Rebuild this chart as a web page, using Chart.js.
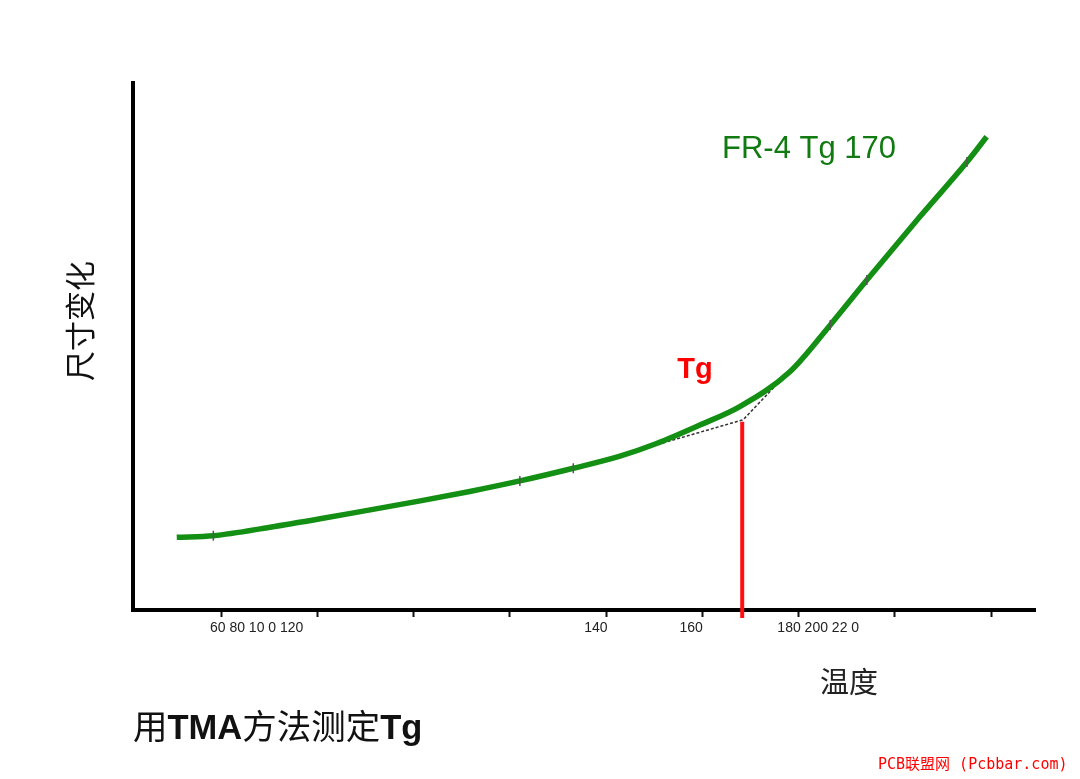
<!DOCTYPE html>
<html>
<head>
<meta charset="utf-8">
<script src="https://cdn.jsdelivr.net/npm/chart.js@4.4.0/dist/chart.umd.min.js"></script>
<style>
    body { margin: 0; background: #fff; }
    #wrap { position: relative; width: 1080px; height: 779px; }
    #caption {
        position: absolute; left: 133px; top: 705px;
        font-family: "Liberation Sans", "Noto Sans CJK SC", sans-serif;
        font-size: 34.5px; line-height: 44px; color: #111; white-space: nowrap;
    }
    #caption b { font-weight: bold; }
    #mark {
        position: absolute; left: 878px; top: 755px;
        font-family: "DejaVu Sans Mono", "Noto Sans CJK SC", monospace;
        font-size: 15px; line-height: 19px; color: #f00; white-space: nowrap;
    }
</style>
</head>
<body>
<div id="wrap">
    <canvas id="myChart" width="1080" height="779"></canvas>
    <div id="caption">用<b>TMA</b>方法测定<b>Tg</b></div>
    <div id="mark">PCB联盟网 (Pcbbar.com)</div>
</div>
<script>
// FR-4 curve (temperature, dimension change in arbitrary units)
const tempC = [50.8, 58.4, 70.2, 80.6, 91.0, 101.4, 111.7, 122.1, 133.2, 142.9, 150.5, 159.5, 167.8, 178.2, 186.6, 194.2, 205.2, 215.0, 219.1];
const dimChange = [13.8, 14.1, 15.7, 17.3, 19.0, 20.7, 22.5, 24.5, 26.9, 29.2, 31.6, 35.1, 38.6, 45.2, 54.1, 62.6, 74.6, 85.0, 89.8];
const markedIdx = [1, 7, 8, 14, 15, 17];

// tangent construction
const tangentT = [148.8, 168.5, 178.9];
const tangentV = [30.9, 36.1, 46.1];

// Tg drop line
const tgTemp = 168.3;
const tgTop = 35.7;
const tgBottom = -1.5;

// axis ticks
const tickMarks = [60, 80, 100, 120, 140, 160, 180, 200, 220];
const tickText = ["60 80 10 0 120", "140", "160", "180 200 22 0"];
const tickTextAt = [67.4, 137.9, 157.7, 184.1];

const toPoints = (xs, ys) => xs.map((x, i) => ({x: x, y: ys[i]}));

const textPlugin = {
    id: 'texts',
    afterDraw(chart) {
        const ctx = chart.ctx;
        const xs = chart.scales.x, ys = chart.scales.y;
        ctx.save();
        ctx.textBaseline = 'middle';

        ctx.fillStyle = '#117a11';
        ctx.font = '31px "Liberation Sans", Arial, sans-serif';
        ctx.textAlign = 'left';
        ctx.fillText('FR-4 Tg 170', xs.getPixelForValue(164.1), ys.getPixelForValue(87.3));

        ctx.fillStyle = '#ff0000';
        ctx.font = 'bold 29px "Liberation Sans", Arial, sans-serif';
        ctx.textAlign = 'center';
        ctx.fillText('Tg', xs.getPixelForValue(158.5), ys.getPixelForValue(45.5));

        ctx.fillStyle = '#222';
        ctx.font = '29px "Noto Sans CJK SC", sans-serif';
        ctx.fillText('温度', 849, 682);

        ctx.translate(80, 321);
        ctx.rotate(-Math.PI / 2);
        ctx.fillStyle = '#111';
        ctx.font = '30px "Noto Sans CJK SC", sans-serif';
        ctx.fillText('尺寸变化', 0, 0);
        ctx.restore();
    }
};

const ctx = document.getElementById('myChart');
const myChart = new Chart(ctx, {
    type: 'line',
    data: {
        datasets: [
            {
                data: toPoints(tempC, dimChange),
                borderColor: '#138f13',
                borderWidth: 5.5,
                cubicInterpolationMode: 'monotone',
                pointStyle: 'line',
                rotation: 90,
                pointRadius: (c) => markedIdx.includes(c.dataIndex) ? 5 : 0,
                pointBorderColor: '#555',
                pointBorderWidth: 1.5
            },
            {
                data: toPoints(tangentT, tangentV),
                borderColor: '#333',
                borderWidth: 1.5,
                borderDash: [3, 2],
                tension: 0,
                pointRadius: 0
            },
            {
                data: [{x: tgTemp, y: tgTop}, {x: tgTemp, y: tgBottom}],
                borderColor: '#ff1010',
                borderWidth: 4,
                pointRadius: 0,
                clip: false
            }
        ]
    },
    options: {
        responsive: false,
        animation: false,
        layout: { padding: { left: 133, top: 83, right: 45, bottom: 139 } },
        plugins: { legend: { display: false }, tooltip: { enabled: false } },
        scales: {
            x: {
                type: 'linear',
                min: 41.71,
                max: 229.14,
                afterBuildTicks: (scale) => {
                    scale.ticks = tickMarks.map(v => ({value: v}))
                        .concat(tickTextAt.map(v => ({value: v})));
                },
                afterFit: (scale) => { scale.height = 30; },
                ticks: {
                    autoSkip: false,
                    maxRotation: 0,
                    padding: 3,
                    color: '#222',
                    font: { family: '"Liberation Sans", Arial, sans-serif', size: 14 },
                    callback: (value) => {
                        const i = tickTextAt.indexOf(value);
                        return i >= 0 ? tickText[i] : '';
                    }
                },
                grid: {
                    drawOnChartArea: false,
                    drawTicks: true,
                    tickLength: 7,
                    tickWidth: 2,
                    tickColor: (c) => tickMarks.includes(c.tick.value) ? '#111' : 'rgba(0,0,0,0)'
                },
                border: { display: true, color: '#000', width: 4 }
            },
            y: {
                type: 'linear',
                min: 0,
                max: 100,
                ticks: { display: false },
                grid: { display: false, drawTicks: false },
                border: { display: true, color: '#000', width: 4 }
            }
        }
    },
    plugins: [textPlugin]
});
</script>
</body>
</html>
